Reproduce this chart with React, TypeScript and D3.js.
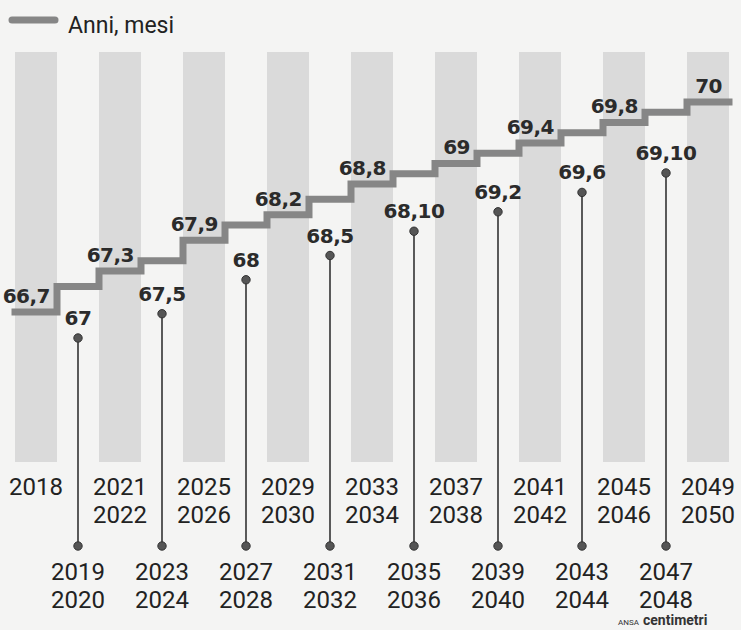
import React from "react";
import * as d3 from "d3";

const periodTop = ["2018","2019","2021","2023","2025","2027","2029","2031","2033","2035","2037","2039","2041","2043","2045","2047","2049"];
const periodBottom = ["","2020","2022","2024","2026","2028","2030","2032","2034","2036","2038","2040","2042","2044","2046","2048","2050"];
const ageYears = [66,67,67,67,67,68,68,68,68,68,69,69,69,69,69,69,70];
const ageMonths = [7,0,3,5,9,0,2,5,8,10,0,2,4,6,8,10,0];
const legendLabel = "Anni, mesi";

const W = 741, H = 630;

export default function App() {
  const data = periodTop.map((p, i) => ({
    id: p,
    top: p,
    bottom: periodBottom[i],
    total: ageYears[i] * 12 + ageMonths[i],
    label: ageMonths[i] === 0 ? `${ageYears[i]}` : `${ageYears[i]},${ageMonths[i]}`,
    i,
  }));
  const x = d3.scaleBand<string>().domain(data.map(d => d.id)).range([15, 729]).padding(0);
  const bw = x.bandwidth();
  const totals = data.map(d => d.total);
  const yLine = d3.scaleLinear().domain([d3.min(totals)!, d3.max(totals)!]).range([312, 102]);
  const odd = data.filter(d => d.i % 2 === 1);
  const even = data.filter(d => d.i % 2 === 0);
  const yDot = d3.scaleLinear().domain([d3.min(odd, d => d.total)!, d3.max(odd, d => d.total)!]).range([338, 173]);
  const pts: [number, number][] = data.map(d => [x(d.id)!, yLine(d.total)]);
  const last = data[data.length - 1];
  pts.push([x(last.id)! + bw, yLine(last.total)]);
  const stepPath = d3.line().curve(d3.curveStepAfter)(pts) || "";
  const stemBottom = 546;
  const numFont = "'DejaVu Sans', sans-serif";
  const yearFont = "Roboto, 'Liberation Sans', sans-serif";

  return (
    <svg width={W} height={H} style={{ position: "absolute", left: 0, top: 0, display: "block" }}>
      <rect x={0} y={0} width={W} height={H} fill="#f4f4f3" />
      {even.map(d => (
        <rect key={"s" + d.id} x={x(d.id)} y={52} width={bw} height={410} fill="#dadada" />
      ))}
      {/* legend */}
      <line x1={12} x2={55} y1={20} y2={20} stroke="#868686" strokeWidth={7} strokeLinecap="round" />
      <text x={68} y={33} fontFamily={yearFont} fontSize={23} fill="#222">{legendLabel}</text>
      {/* lollipops */}
      {odd.map(d => {
        const cx = x(d.id)! + bw / 2;
        const cy = yDot(d.total);
        return (
          <g key={"l" + d.id}>
            <line x1={cx} x2={cx} y1={cy} y2={stemBottom} stroke="#333" strokeWidth={1.6} />
            <circle cx={cx} cy={cy} r={4.2} fill="#555" stroke="#333" strokeWidth={1} />
            <circle cx={cx} cy={stemBottom} r={4.2} fill="#555" stroke="#333" strokeWidth={1} />
            <text x={cx} y={cy - 13} textAnchor="middle" fontFamily={numFont} fontWeight="bold" fontSize={20} letterSpacing={-0.5} fill="#2b2b2b">{d.label}</text>
          </g>
        );
      })}
      {/* step line */}
      <path d={stepPath} fill="none" stroke="#868686" strokeWidth={7} strokeLinecap="square" />
      {even.map(d => (
        <text key={"v" + d.id} x={x(d.id)! + bw - 7} y={yLine(d.total) - 9} textAnchor="end" fontFamily={numFont} fontWeight="bold" fontSize={20} letterSpacing={-0.5} fill="#2b2b2b">{d.label}</text>
      ))}
      {/* period labels */}
      {data.map(d => {
        const cx = x(d.id)! + bw / 2;
        const y0 = d.i % 2 === 0 ? 495 : 580;
        return (
          <g key={"p" + d.id}>
            <text x={cx} y={y0} textAnchor="middle" fontFamily={yearFont} fontSize={24} fill="#222">{d.top}</text>
            {d.bottom && <text x={cx} y={y0 + 28} textAnchor="middle" fontFamily={yearFont} fontSize={24} fill="#222">{d.bottom}</text>}
          </g>
        );
      })}
      <text x={618} y={625} fontFamily={yearFont} fontSize={8} fill="#333">ANSA</text>
      <text x={643} y={625} fontFamily={yearFont} fontSize={14} fontWeight="bold" fill="#333">centimetri</text>
    </svg>
  );
}
